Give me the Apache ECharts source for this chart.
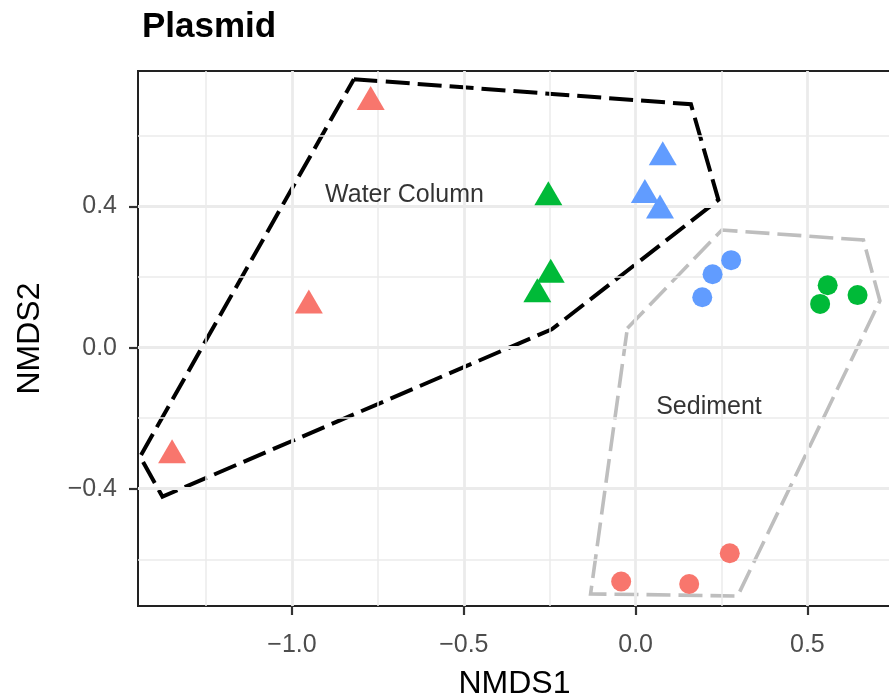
<!DOCTYPE html>
<html>
<head>
<meta charset="utf-8">
<script src="https://cdn.jsdelivr.net/npm/echarts@6/dist/echarts.min.js"></script>
<style>html,body{margin:0;padding:0;background:#fff}#c{width:889px;height:696px}</style>
</head>
<body>
<div id="c"></div>
<script>
// ---- data (NMDS1, NMDS2) ----
const waterRed   = [[-0.771, 0.708], [-0.951, 0.131], [-1.349, -0.294]];
const waterGreen = [[-0.254, 0.4375], [-0.247, 0.218], [-0.286, 0.163]];
const waterBlue  = [[0.079, 0.551], [0.027, 0.444], [0.071, 0.400]];
const sedRed     = [[-0.042, -0.663], [0.156, -0.670], [0.274, -0.583]];
const sedGreen   = [[0.559, 0.177], [0.646, 0.149], [0.537, 0.124]];
const sedBlue    = [[0.278, 0.248], [0.224, 0.208], [0.194, 0.143]];
const waterHull  = [[-0.820, 0.761], [0.161, 0.690], [0.241, 0.419], [-0.220, 0.070], [-0.244, 0.052], [-1.377, -0.4225], [-1.442, -0.309], [-0.820, 0.761]];
const sedHull    = [[-0.024, 0.055], [0.251, 0.3335], [0.663, 0.305], [0.711, 0.133], [0.297, -0.704], [-0.131, -0.698], [-0.024, 0.055]];
const annotations = [[-0.6726, 0.432, 'Water Column'], [0.2136, -0.1697, 'Sediment']];
const xTicks = [-1.0, -0.5, 0.0, 0.5];
const yTicks = [-0.4, 0.0, 0.4];
const xMinor = [-1.25, -0.75, -0.25, 0.25];
const yMinor = [-0.6, -0.2, 0.2, 0.6];
const titleText = 'Plasmid';
const xName = 'NMDS1';
const yName = 'NMDS2';

const FONT = 'Liberation Sans, Arial, Helvetica, sans-serif';
const RED = '#F8766D', GREEN = '#00BA38', BLUE = '#619CFF';
const fmt = v => (v < 0 ? '\u2212' : '') + Math.abs(v).toFixed(1);

const gridLines = [];
xTicks.forEach(v => gridLines.push({xAxis: v, lineStyle: {width: 2.8}}));
yTicks.forEach(v => gridLines.push({yAxis: v, lineStyle: {width: 2.8}}));
xMinor.forEach(v => gridLines.push({xAxis: v, lineStyle: {width: 1.5}}));
yMinor.forEach(v => gridLines.push({yAxis: v, lineStyle: {width: 1.5}}));

function pts(data, color, symbol, size) {
  return {type: 'scatter', data: data, symbol: symbol, symbolSize: size,
    itemStyle: {color: color, opacity: 1}, z: 5, silent: true};
}
function hull(data, color, w) {
  return {type: 'line', data: data, symbol: 'none', z: 4, silent: true,
    lineStyle: {color: color, width: w, type: [24, 8], join: 'miter', cap: 'butt'}};
}

const chart = echarts.init(document.getElementById('c'), null, {renderer: 'canvas'});
chart.setOption({
  animation: false,
  backgroundColor: '#ffffff',
  title: {text: titleText, left: 137, top: 5,
    textStyle: {fontFamily: FONT, fontWeight: 'bold', fontSize: 35, color: '#000'}},
  grid: {left: 138, top: 71, right: -2, bottom: 90, show: true, outerBoundsMode: 'none', containLabel: false,
    borderColor: '#222', borderWidth: 2, backgroundColor: 'transparent'},
  xAxis: {type: 'value', min: -1.4482, max: 0.7433,
    name: xName, nameLocation: 'middle', nameGap: 62,
    nameTextStyle: {fontFamily: FONT, fontSize: 32, color: '#000'},
    axisLine: {show: false, onZero: false}, splitLine: {show: false},
    axisTick: {show: true, customValues: xTicks, length: 9, lineStyle: {color: '#333', width: 2.2}},
    axisLabel: {show: true, customValues: xTicks, formatter: fmt, margin: 27,
      fontFamily: FONT, fontSize: 25, color: '#4d4d4d'}},
  yAxis: {type: 'value', min: -0.7324, max: 0.7843,
    name: yName, nameLocation: 'middle', nameGap: 92, nameRotate: 90,
    nameTextStyle: {fontFamily: FONT, fontSize: 32, color: '#000'},
    axisLine: {show: false, onZero: false}, splitLine: {show: false},
    axisTick: {show: true, customValues: yTicks, length: 9, lineStyle: {color: '#333', width: 2.2}},
    axisLabel: {show: true, customValues: yTicks, formatter: fmt, margin: 21,
      fontFamily: FONT, fontSize: 25, color: '#4d4d4d'}},
  series: [
    {type: 'scatter', data: [], z: 1, silent: true,
      markLine: {silent: true, symbol: ['none', 'none'], animation: false,
        label: {show: false}, lineStyle: {color: '#ebebeb', type: 'solid'}, data: gridLines}},
    hull(waterHull, '#000000', 4),
    hull(sedHull, '#bebebe', 3.6),
    pts(waterRed, RED, 'triangle', [28, 24]),
    pts(waterGreen, GREEN, 'triangle', [28, 24]),
    pts(waterBlue, BLUE, 'triangle', [28, 24]),
    pts(sedRed, RED, 'circle', 20),
    pts(sedGreen, GREEN, 'circle', 20),
    pts(sedBlue, BLUE, 'circle', 20),
    {type: 'scatter', data: annotations, symbolSize: 0, z: 6, silent: true,
      label: {show: true, position: 'inside', formatter: p => p.value[2],
        fontFamily: FONT, fontSize: 25, color: '#000'}}
  ]
});
</script>
</body>
</html>
